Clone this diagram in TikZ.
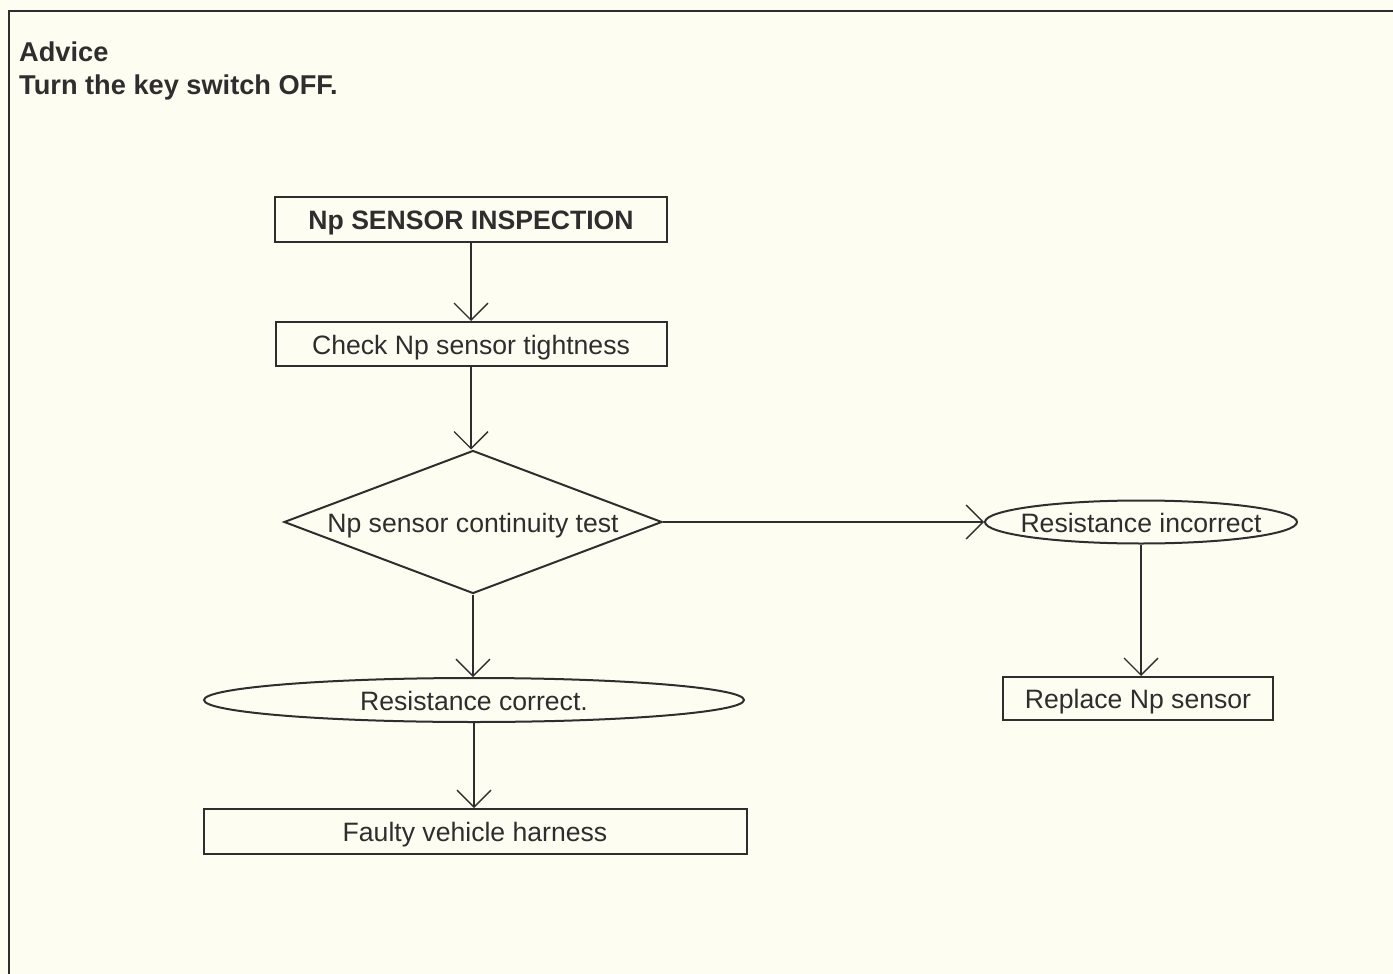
\documentclass[tikz,border=0pt]{standalone}
\usepackage{fontspec}
\setmainfont{Liberation Sans}
\usetikzlibrary{shapes.geometric,arrows.meta}
\definecolor{ink}{HTML}{2E2E2E}
\definecolor{paper}{HTML}{FEFDF2}

% label centred on its node, caps centred on the anchor point
\newcommand{\lbl}[1]{\makebox[0pt]{\raisebox{-0.38em}[0pt][0pt]{#1}}}

\begin{document}
\begin{tikzpicture}[x=1pt,y=-1pt,
  every node/.style={text=ink, font=\fontsize{26.6}{30}\selectfont},
  stepbox/.style={draw=ink, line width=2pt, rectangle, inner sep=0pt},
  roundbox/.style={draw=ink, line width=2pt, ellipse, inner sep=0pt},
  testbox/.style={draw=ink, line width=2pt, diamond, inner sep=0pt},
  flow/.style={draw=ink, line width=1.3pt,
    -{Straight Barb[length=17pt,width=34pt,line width=1.3pt]}},
  frame/.style={draw=ink, line width=2pt},
  heading/.style={anchor=base west, inner sep=0pt, font=\fontsize{27.2}{30}\selectfont\bfseries},
]
% page and frame
\fill[paper] (0,0) rectangle (1393,974);
\useasboundingbox (0,0) rectangle (1393,974);
\coordinate (fc) at (9,11);
\coordinate (fr) at (1393,11);
\coordinate (fb) at (9,974);
\draw[frame] (fr) -- (fc) -- (fb);

% heading
\node[heading] (adv) at (19,62) {Advice};
\node[heading] (off) at (19,95) {Turn the key switch OFF.};

% flow chart
\node[stepbox, minimum width=392pt, minimum height=45pt, font=\fontsize{26.6}{30}\selectfont\bfseries]
  (insp) at (471,219.5) {\lbl{Np SENSOR INSPECTION}};
\node[stepbox, minimum width=391pt, minimum height=44pt] (tight) at (471,344) {\lbl{Check Np sensor tightness}};
\node[testbox, minimum width=378pt, minimum height=143pt] (cont) at (473,522) {\lbl{Np sensor continuity test}};
\node[roundbox, minimum width=312pt, minimum height=43pt] (bad) at (1141,522) {\lbl{Resistance incorrect}};
\node[stepbox, minimum width=270pt, minimum height=43pt] (repl) at (1138,698.5) {\lbl{Replace Np sensor}};
\node[roundbox, minimum width=540pt, minimum height=44pt] (good) at (474,700) {\lbl{Resistance correct.}};
\node[stepbox, minimum width=543pt, minimum height=45pt] (harn) at (475,831.5) {\lbl{Faulty vehicle harness}};

% connectors
\draw[flow] (insp.south) -- (insp.south |- tight.north);
\draw[flow] (tight.south) -- (tight.south |- cont.north);
\draw[flow] (cont.east) -- (bad.west);
\draw[flow] (bad.south) -- (bad.south |- repl.north);
\draw[flow] (cont.south) -- (cont.south |- good.north);
\draw[flow] (good.south) -- (good.south |- harn.north);
\end{tikzpicture}
\end{document}
